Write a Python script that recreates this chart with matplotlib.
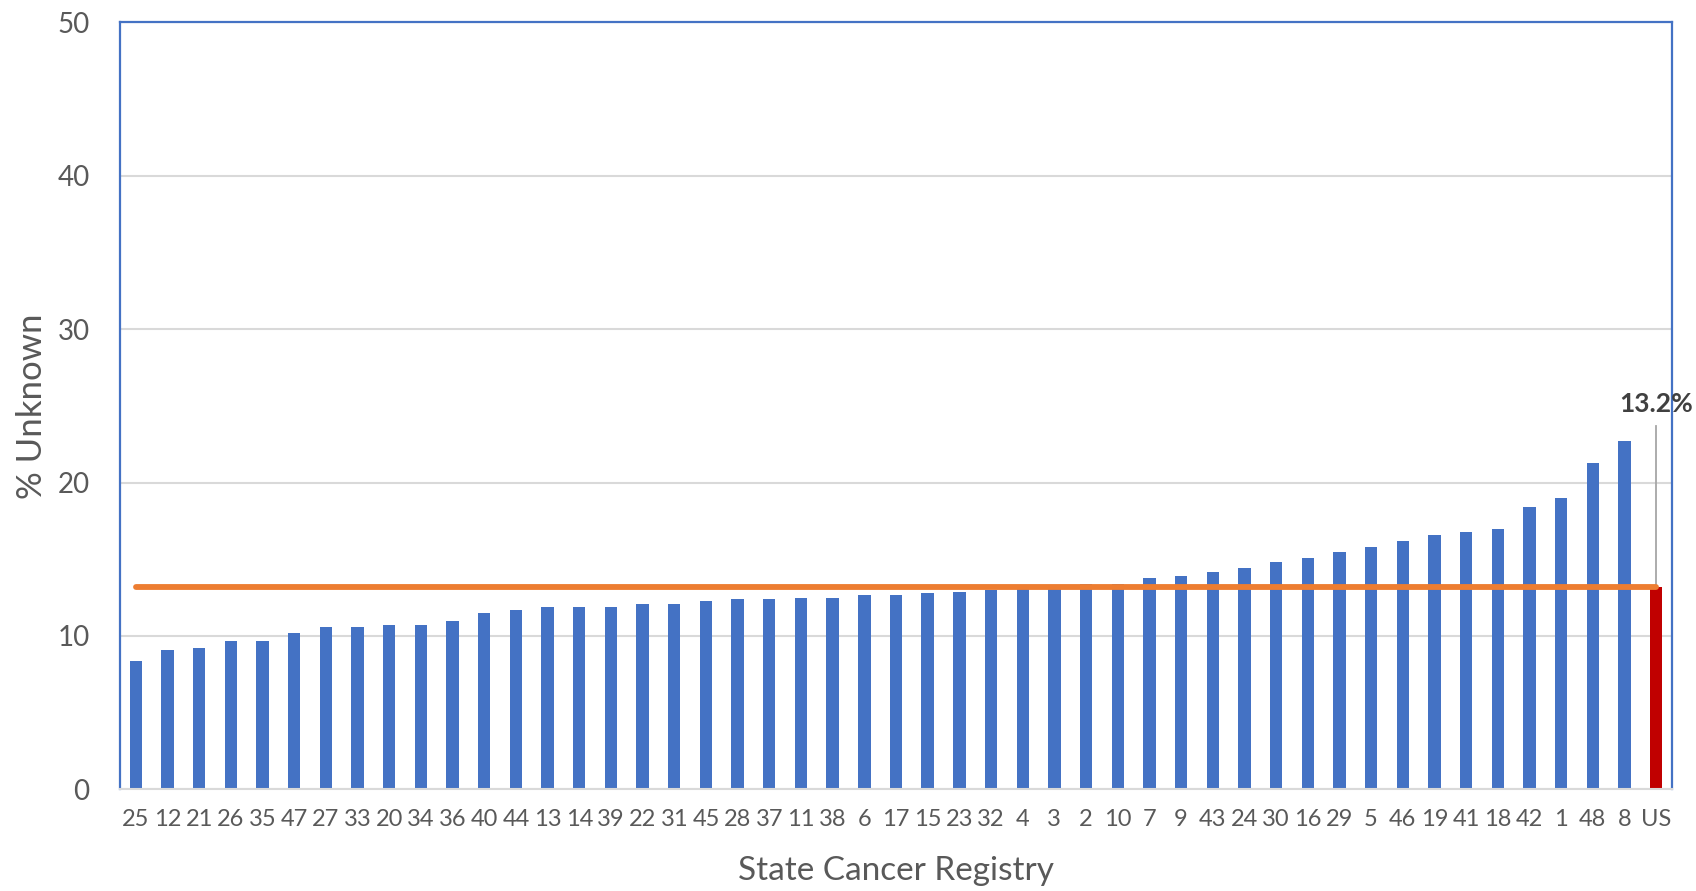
import matplotlib.pyplot as plt

# registros estatales ordenados por % desconocido, mas el total de EE.UU.
registros = ['25', '12', '21', '26', '35', '47', '27', '33', '20', '34',
             '36', '40', '44', '13', '14', '39', '22', '31', '45', '28',
             '37', '11', '38', '6', '17', '15', '23', '32', '4', '3',
             '2', '10', '7', '9', '43', '24', '30', '16', '29', '5',
             '46', '19', '41', '18', '42', '1', '48', '8', 'US']
pct_desconocido = [8.4, 9.1, 9.2, 9.7, 9.7, 10.2, 10.6, 10.6, 10.7, 10.7,
                   11.0, 11.5, 11.7, 11.9, 11.9, 11.9, 12.1, 12.1, 12.3, 12.4,
                   12.4, 12.5, 12.5, 12.7, 12.7, 12.8, 12.9, 13.0, 13.1, 13.1,
                   13.4, 13.4, 13.8, 13.9, 14.2, 14.4, 14.8, 15.1, 15.5, 15.8,
                   16.2, 16.6, 16.8, 17.0, 18.4, 19.0, 21.3, 22.7, 13.2]
valor_us = 13.2
etiqueta_us = '13.2%'

plt.rcParams['font.family'] = ['Lato', 'DejaVu Sans']

fig = plt.figure(figsize=(16.96, 8.91), dpi=100)
ax = fig.add_axes([0.0708, 0.114, 0.915, 0.861])

x = list(range(len(registros)))
colores = ['#4472C4'] * (len(registros) - 1) + ['#C00000']
ax.bar(x, pct_desconocido, width=0.39, color=colores, zorder=2)

# linea de referencia del promedio nacional
ax.plot([0, len(registros) - 1], [valor_us, valor_us], color='#ED7D31',
        linewidth=4.2, solid_capstyle='round', zorder=3)

# etiqueta del valor de EE.UU. con linea guia
ax.plot([x[-1], x[-1]], [valor_us, 23.7], color='#A6A6A6', linewidth=1.3, zorder=1)
ax.text(x[-1], 25.1, etiqueta_us, ha='center', va='center', fontsize=19,
        fontweight='bold', color='#404040', clip_on=False)

ax.set_xlim(-0.5, len(registros) - 0.5)
ax.set_ylim(0, 50)
ax.set_yticks([0, 10, 20, 30, 40, 50])
ax.set_xticks(x)
ax.set_xticklabels(registros)

ax.yaxis.grid(True, color='#D9D9D9', linewidth=1.5, zorder=0)
ax.set_axisbelow(True)

for lado in ['left', 'top', 'right']:
    ax.spines[lado].set_color('#4472C4')
    ax.spines[lado].set_linewidth(1.6)
ax.spines['bottom'].set_color('#D9D9D9')
ax.spines['bottom'].set_linewidth(1.5)

ax.tick_params(axis='both', length=0, colors='#595959')
ax.tick_params(axis='y', labelsize=20, pad=22)
ax.tick_params(axis='x', labelsize=17, pad=14)

ax.set_xlabel('State Cancer Registry', fontsize=24, color='#595959', labelpad=19)
ax.set_ylabel('% Unknown', fontsize=25, color='#595959', labelpad=7)

fig.savefig('out.png', dpi=100)
